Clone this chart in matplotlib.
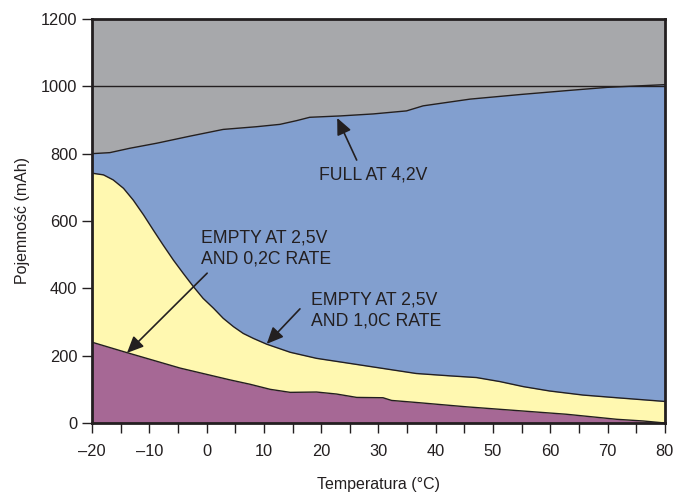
import matplotlib.pyplot as plt

plt.rcParams['font.family'] = ['Liberation Sans', 'DejaVu Sans']

# full charge at 4,2V
full_t = [-20, -16.9, -13.4, -8.7, -2.9, 2.9, 8.7, 12.8, 15.7, 18.0, 23.3, 29.1, 34.9, 37.8,
          46, 55, 63.4, 70, 75, 80]
full_c = [800, 803, 816, 831, 852, 872, 880, 887, 898, 908, 912, 918, 927, 942,
          962, 976, 988, 997, 1001, 1005]

# empty at 2,5V, 1,0C rate
c1_t = [-20, -18.0, -16.3, -14.5, -12.8, -11.0, -9.3, -7.6, -5.8, -4.1, -2.3, -0.6, 1.2, 2.9,
        4.7, 6.4, 8.2, 10.5, 14.6, 19.2, 25.0, 30.8, 36.6, 42.5, 47.1, 51.2, 55.3, 59.9,
        65.7, 71.6, 80]
c1_c = [742, 737, 722, 697, 662, 618, 573, 529, 484, 445, 405, 370, 341, 311,
        286, 266, 251, 234, 210, 192, 177, 162, 147, 140, 135, 123, 108, 95,
        83, 75, 64]

# empty at 2,5V, 0,2C rate
c02_t = [-20, -14.5, -4.6, 4.1, 7.6, 11.1, 14.6, 19.2, 22.7, 26.2, 30.8, 32.3, 36.6, 45.4,
         54.1, 62.8, 71.6, 76.2, 80]
c02_c = [240, 212, 163, 128, 115, 100, 91, 92, 86, 76, 75, 67, 61, 48,
         37, 26, 11, 6, 0]

grey = '#a7a8ab'
blue = '#829fcf'
yellow = '#fff8b0'
purple = '#a66895'
ink = '#231f20'

fig = plt.figure(figsize=(6.75, 4.97), dpi=100)
ax = fig.add_axes([0.1363, 0.1489, 0.8487, 0.8129])
ax.set_facecolor(grey)

ax.fill_between(full_t, 0, full_c, color=blue, lw=0)
ax.fill_between(c1_t, 0, c1_c, color=yellow, lw=0)
ax.fill_between(c02_t, 0, c02_c, color=purple, lw=0)
for t, c in [(full_t, full_c), (c1_t, c1_c), (c02_t, c02_c)]:
    ax.plot(t, c, color=ink, lw=1.0)
ax.axhline(1000, color=ink, lw=1.0)

ax.set_xlim(-20, 80)
ax.set_ylim(0, 1200)
ax.set_xticks(range(-20, 81, 10))
ax.set_xticklabels(['\u201320', '\u201310'] + [str(v) for v in range(0, 81, 10)])
ax.set_xticks(range(-20, 81, 5), minor=True)
ax.set_yticks(range(0, 1201, 200))
ax.tick_params(axis='both', which='both', direction='out', length=7, width=1,
               color=ink, labelsize=11.8, labelcolor=ink)
ax.tick_params(axis='x', which='major', pad=8)
for s in ax.spines.values():
    s.set_linewidth(2)
    s.set_color(ink)

ax.set_xlabel('Temperatura (\u00b0C)', fontsize=11.5, color=ink, labelpad=13)
ax.set_ylabel('Pojemno\u015b\u0107 (mAh)', fontsize=11.5, color=ink, labelpad=8)

txt = dict(fontsize=12.7, color=ink, linespacing=1.3)
arr = dict(arrowstyle='-|>,head_length=1.0,head_width=0.45', color=ink, lw=1.2,
           shrinkA=0, shrinkB=0)
ax.text(19.6, 737, 'FULL AT 4,2V', va='center', ha='left', **txt)
ax.annotate('', xy=(22.8, 906), xytext=(26.2, 781), arrowprops=arr)
ax.text(-1.0, 517, 'EMPTY AT 2,5V\nAND 0,2C RATE', va='center', ha='left', **txt)
ax.annotate('', xy=(-13.9, 208), xytext=(0.1, 445), arrowprops=arr)
ax.text(18.2, 333, 'EMPTY AT 2,5V\nAND 1,0C RATE', va='center', ha='left', **txt)
ax.annotate('', xy=(10.5, 235), xytext=(16.3, 339), arrowprops=arr)

fig.savefig('out.png', dpi=100)
